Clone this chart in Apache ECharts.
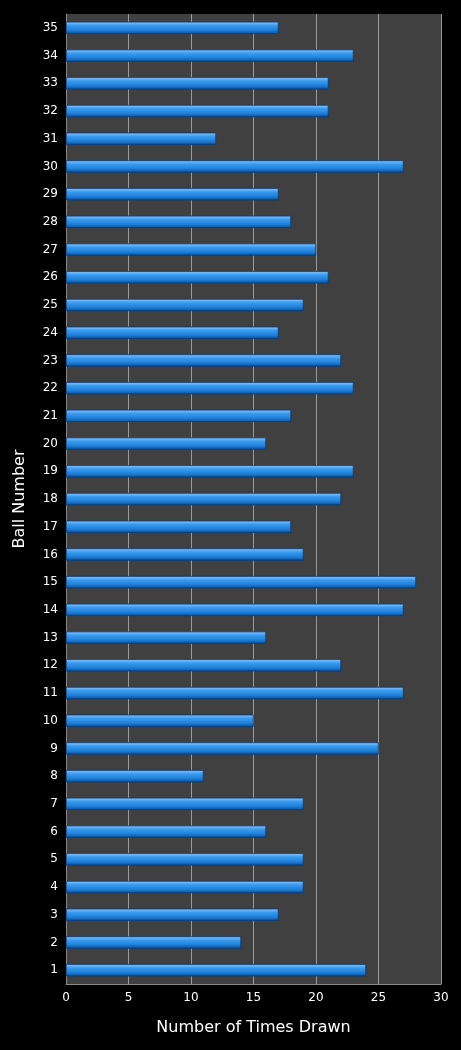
<!DOCTYPE html>
<html><head><meta charset="utf-8">
<script src="https://cdn.jsdelivr.net/npm/echarts@6/dist/echarts.min.js"></script>
<style>html,body{margin:0;background:#000;}#c{width:461px;height:1050px;}</style>
</head><body><div id="c"></div>
<script>
const balls = Array.from({length:35},(_,i)=>String(i+1));
const timesDrawn = [24,14,17,19,19,16,19,11,25,15,27,22,16,27,28,19,18,22,23,16,18,23,22,17,19,21,20,18,17,27,12,21,21,23,17];
const chart = echarts.init(document.getElementById('c'));
chart.setOption({
  backgroundColor:'#000',
  grid:{left:66,right:20,top:14,bottom:66,backgroundColor:'#404040',show:true,borderWidth:0},
  xAxis:{type:'value',min:0,max:30,interval:5,
    name:'Number of Times Drawn',nameLocation:'middle',nameGap:36,
    nameTextStyle:{color:'#fff',fontSize:16,fontFamily:'DejaVu Sans'},
    axisLabel:{color:'#fff',fontSize:12,fontFamily:'DejaVu Sans'},
    axisLine:{show:true,lineStyle:{color:'#888'}},
    splitLine:{lineStyle:{color:'#9a9a9a',width:1}}},
  yAxis:{type:'category',data:balls,
    name:'Ball Number',nameLocation:'middle',nameGap:38,
    nameTextStyle:{color:'#fff',fontSize:16,fontFamily:'DejaVu Sans'},
    axisLabel:{color:'#fff',fontSize:12,fontFamily:'DejaVu Sans'},
    axisTick:{show:false},axisLine:{lineStyle:{color:'#888'}}},
  series:[{type:'bar',data:timesDrawn,barWidth:12,
    itemStyle:{color:new echarts.graphic.LinearGradient(0,0,0,1,[
      {offset:0,color:'#8cc8ff'},{offset:0.3,color:'#3a9cf0'},{offset:0.7,color:'#1f7fd8'},{offset:1,color:'#0b4f99'}]),
      borderColor:'#0a3f7a',borderWidth:0.5}}]
});
</script></body></html>
